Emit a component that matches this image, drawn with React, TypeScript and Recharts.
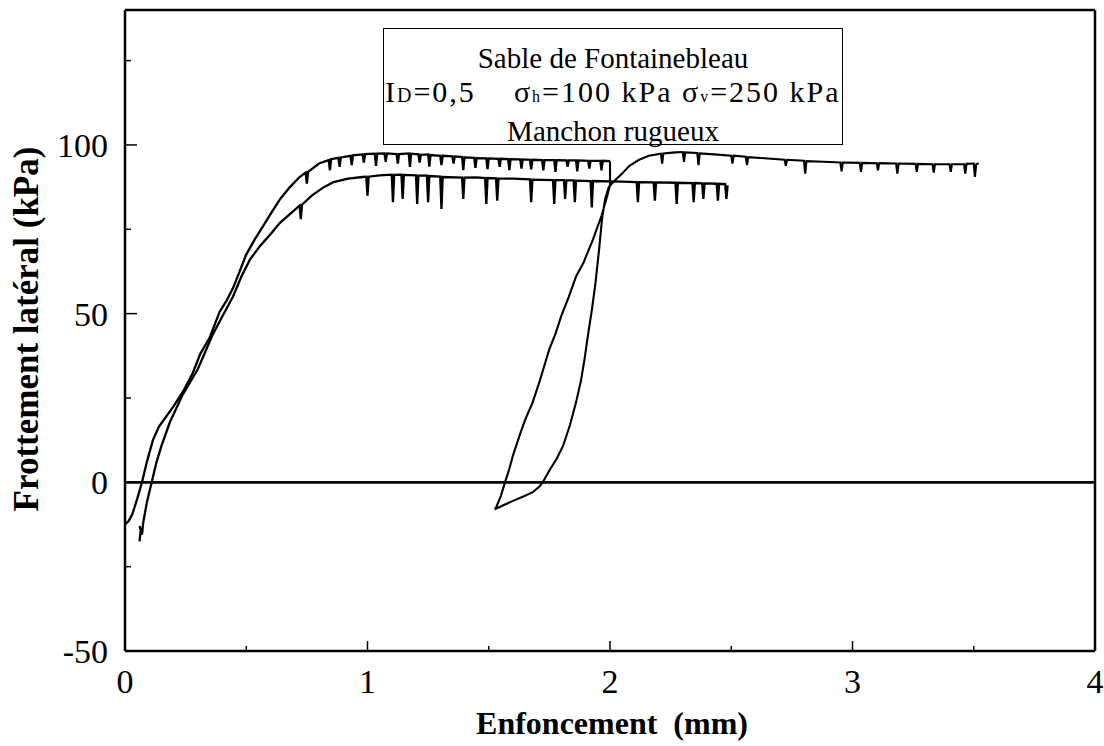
import React from 'react';
import { LineChart, Line, XAxis, YAxis, ReferenceLine } from 'recharts';

// Enfoncement (mm) vs frottement latéral (kPa)
const firstLoading: [number, number][] = [
  [0.0, -12.5], [0.015, -11.5], [0.03, -9.5], [0.05, -5], [0.07, 0], [0.09, 6], [0.115, 12.5],
  [0.14, 16.5], [0.17, 19.5], [0.2, 22.5], [0.24, 27], [0.28, 32.5], [0.31, 38], [0.35, 43],
  [0.39, 50.5], [0.42, 54], [0.445, 57.5], [0.47, 62], [0.5, 67.5], [0.535, 72], [0.57, 76],
  [0.6, 79.5], [0.64, 84], [0.68, 87.5], [0.72, 90.5], [0.745, 91.8], [0.75, 88.5], [0.755, 92],
  [0.8, 94.5], [0.84, 95.5], [0.845, 92.5], [0.85, 95.8], [0.88, 96.2], [0.885, 93.5], [0.89, 96.3],
  [0.93, 96.8], [0.935, 94], [0.94, 96.9], [0.98, 97.2], [0.985, 94.8], [0.99, 97.3], [1.03, 97.4],
  [1.035, 93.8], [1.04, 97.4], [1.07, 97.5], [1.075, 95], [1.08, 97.5], [1.12, 97.3], [1.125, 94.5],
  [1.13, 97.3], [1.17, 97.5], [1.175, 93.5], [1.18, 97.4], [1.21, 97.2], [1.215, 94.8], [1.22, 97.1],
  [1.25, 97.2], [1.255, 93.6], [1.26, 97], [1.3, 96.8], [1.305, 94], [1.31, 96.8], [1.35, 96.6],
  [1.355, 94.5], [1.36, 96.6], [1.39, 96.4], [1.395, 92.5], [1.4, 96.3], [1.44, 96.2], [1.445, 93.2],
  [1.45, 96.1], [1.49, 96], [1.495, 92.8], [1.5, 96], [1.54, 95.9], [1.545, 93.5], [1.55, 95.9],
  [1.58, 95.8], [1.585, 92.5], [1.59, 95.8], [1.63, 95.7], [1.635, 93], [1.64, 95.7], [1.67, 95.6],
  [1.675, 92.8], [1.68, 95.6], [1.72, 95.5], [1.725, 92.5], [1.73, 95.5], [1.77, 95.5], [1.775, 92],
  [1.78, 95.5], [1.82, 95.4], [1.825, 93.5], [1.83, 95.4], [1.86, 95.4], [1.865, 92.2], [1.87, 95.4],
  [1.91, 95.3], [1.915, 93], [1.92, 95.3], [1.96, 95.3], [1.965, 92.5], [1.97, 95.3], [2.0, 95.2],
];

const unloadReload: [number, number][] = [
  [2.0, 95.2], [2.0, 88], [1.985, 84], [1.965, 79], [1.93, 72], [1.89, 65], [1.86, 61], [1.83, 55],
  [1.8, 49.5], [1.775, 44], [1.75, 39.5], [1.71, 30], [1.68, 23.5], [1.65, 18.5], [1.63, 14.5],
  [1.6, 8], [1.585, 4], [1.567, 0], [1.55, -4], [1.53, -7.5], [1.525, -8], [1.56, -6.8], [1.6, -5.5],
  [1.64, -4.3], [1.68, -3], [1.71, -1.2], [1.725, 0.3], [1.75, 3.5], [1.78, 7], [1.806, 10.7],
  [1.835, 17], [1.86, 23.7], [1.88, 30], [1.895, 36.5], [1.91, 44], [1.925, 51], [1.94, 59],
  [1.955, 69], [1.967, 78], [1.98, 84], [1.995, 87.5], [2.02, 89.5], [2.05, 91.5], [2.08, 93.8],
  [2.12, 95.6], [2.16, 96.8], [2.21, 97.4], [2.215, 94.5], [2.22, 97.5], [2.27, 97.8], [2.3, 97.9],
  [2.305, 95], [2.31, 97.8], [2.36, 97.6], [2.365, 94], [2.37, 97.5], [2.43, 97.2], [2.5, 96.8],
  [2.505, 94.5], [2.51, 96.8], [2.56, 96.5], [2.565, 94], [2.57, 96.4], [2.65, 96], [2.72, 95.6],
  [2.725, 93.8], [2.73, 95.6], [2.8, 95.3], [2.805, 91.5], [2.81, 95.2], [2.88, 95], [2.95, 94.8],
  [2.955, 92.2], [2.96, 94.8], [3.03, 94.7], [3.035, 92], [3.04, 94.7], [3.1, 94.6], [3.105, 92.5],
  [3.11, 94.6], [3.18, 94.5], [3.185, 91.5], [3.19, 94.5], [3.26, 94.4], [3.265, 92], [3.27, 94.4],
  [3.33, 94.3], [3.335, 91.8], [3.34, 94.3], [3.4, 94.3], [3.405, 92], [3.41, 94.3], [3.46, 94.3],
  [3.465, 91.5], [3.47, 94.4], [3.5, 94.5], [3.505, 90.5], [3.51, 94.2], [3.52, 94.6],
];

const secondTest: [number, number][] = [
  [0.06, -17.5], [0.065, -14], [0.06, -13], [0.07, -15.5], [0.075, -12], [0.09, -6], [0.11, 0],
  [0.13, 6], [0.15, 10.7], [0.185, 17.8], [0.235, 25.6], [0.3, 33.5], [0.36, 43.5], [0.4, 49],
  [0.445, 55], [0.48, 61], [0.515, 66], [0.556, 70], [0.6, 73.5], [0.64, 77], [0.68, 79.5],
  [0.72, 82], [0.725, 78], [0.73, 82.3], [0.77, 85], [0.82, 87.5], [0.86, 89], [0.92, 90],
  [0.98, 90.5], [0.995, 90.6], [1.0, 85], [1.005, 90.6], [1.05, 91], [1.1, 91.2], [1.105, 83],
  [1.11, 91.1], [1.14, 91.2], [1.145, 84], [1.15, 91.1], [1.2, 91], [1.205, 82.5], [1.21, 90.9],
  [1.245, 90.9], [1.25, 83], [1.255, 90.8], [1.3, 90.6], [1.305, 81], [1.31, 90.5], [1.39, 90.3],
  [1.395, 84], [1.4, 90.3], [1.45, 90.4], [1.485, 90.2], [1.49, 82.5], [1.495, 90.2], [1.53, 90.1],
  [1.535, 83.5], [1.54, 90], [1.6, 90], [1.67, 89.8], [1.675, 83], [1.68, 89.7], [1.765, 89.6],
  [1.77, 82.5], [1.775, 89.6], [1.81, 89.6], [1.815, 84], [1.82, 89.5], [1.85, 89.5], [1.855, 83],
  [1.86, 89.4], [1.92, 89.3], [1.925, 81.5], [1.93, 89.3], [2.0, 89.2], [2.05, 89.1], [2.11, 89],
  [2.115, 83], [2.12, 89], [2.18, 88.9], [2.185, 83.5], [2.19, 88.9], [2.27, 88.8], [2.275, 82.5],
  [2.28, 88.8], [2.34, 88.7], [2.345, 83], [2.35, 88.7], [2.38, 88.6], [2.385, 84], [2.39, 88.6],
  [2.44, 88.5], [2.445, 83.5], [2.45, 88.5], [2.475, 88.4], [2.48, 84], [2.485, 88],
];

const xTicks = [0, 0.5, 1, 1.5, 2, 2.5, 3, 3.5, 4];
const xLabels = [0, 1, 2, 3, 4];
const yTicks = [-50, -25, 0, 25, 50, 75, 100, 125];
const yLabels = [-50, 0, 50, 100];

const toPoints = (arr: [number, number][]) => arr.map(([x, y]) => ({ x, y }));

const FONT = "'Liberation Serif', Tinos, serif";
const X_MARGIN = 12;
const Y_MARGIN = 17;

const XTick = (props: any) => {
  const { x, y, payload } = props;
  const axisY = y - X_MARGIN;
  const major = xLabels.includes(payload.value);
  return (
    <g>
      <line x1={x} x2={x} y1={axisY} y2={axisY - (major ? 10 : 5)} stroke="#000" strokeWidth={1.5} />
      {major && (
        <text x={x} y={axisY + 42} textAnchor="middle" fontSize={34} fill="#000" style={{ fontFamily: FONT }}>
          {payload.value}
        </text>
      )}
    </g>
  );
};

const YTick = (props: any) => {
  const { x, y, payload } = props;
  const axisX = x + Y_MARGIN;
  const major = yLabels.includes(payload.value);
  return (
    <g>
      <line x1={axisX} x2={axisX + (major ? 12 : 6)} y1={y} y2={y} stroke="#000" strokeWidth={1.5} />
      {major && (
        <text x={x} y={y} dy="0.35em" textAnchor="end" fontSize={34} fill="#000" style={{ fontFamily: FONT }}>
          {payload.value}
        </text>
      )}
    </g>
  );
};

export default function App() {
  return (
    <div style={{ position: 'absolute', left: 0, top: 0, width: 1104, height: 746, background: '#fff', fontFamily: FONT }}>
      <LineChart width={1104} height={746} margin={{ top: 10, right: 9, bottom: 65, left: 65 }}>
        <XAxis
          dataKey="x"
          type="number"
          domain={[0, 4]}
          ticks={xTicks}
          interval={0}
          tickSize={0}
          tickMargin={X_MARGIN}
          tickLine={false}
          axisLine={{ stroke: '#000', strokeWidth: 2.5 }}
          tick={<XTick />}
          height={30}
          allowDataOverflow
        />
        <YAxis
          type="number"
          domain={[-50, 140]}
          ticks={yTicks}
          interval={0}
          tickSize={0}
          tickMargin={Y_MARGIN}
          tickLine={false}
          axisLine={{ stroke: '#000', strokeWidth: 2.5 }}
          tick={<YTick />}
          width={60}
          allowDataOverflow
        />
        <ReferenceLine y={140} stroke="#000" strokeWidth={2.5} />
        <ReferenceLine x={4} stroke="#000" strokeWidth={2.5} />
        <ReferenceLine y={0} stroke="#000" strokeWidth={2.8} />
        <Line data={toPoints(firstLoading)} dataKey="y" type="linear" dot={false} stroke="#000" strokeWidth={2.3} isAnimationActive={false} />
        <Line data={toPoints(unloadReload)} dataKey="y" type="linear" dot={false} stroke="#000" strokeWidth={2.1} isAnimationActive={false} />
        <Line data={toPoints(secondTest)} dataKey="y" type="linear" dot={false} stroke="#000" strokeWidth={2.3} isAnimationActive={false} />
      </LineChart>

      <div
        style={{
          position: 'absolute', left: 383, top: 28, width: 460, height: 117, boxSizing: 'border-box',
          border: '1.5px solid #000', background: '#fff', fontSize: 29, lineHeight: '34px', color: '#000',
          paddingTop: 12,
        }}
      >
        <div style={{ textAlign: 'center' }}>Sable de Fontainebleau</div>
        <div style={{ paddingLeft: 1, whiteSpace: 'pre', fontSize: 30, letterSpacing: 2 }}>
          I<span style={{ fontSize: 20 }}>D</span>=0,5{'    '}σ<span style={{ fontSize: 16 }}>h</span>=100 kPa σ
          <span style={{ fontSize: 16 }}>v</span>=250 kPa
        </div>
        <div style={{ textAlign: 'center' }}>Manchon rugueux</div>
      </div>

      <div
        style={{
          position: 'absolute', left: 27, top: 329, transform: 'translate(-50%, -50%) rotate(-90deg)',
          whiteSpace: 'nowrap', fontSize: 35, fontWeight: 'bold', color: '#000',
        }}
      >
        Frottement latéral (kPa)
      </div>
      <div
        style={{
          position: 'absolute', left: 612, top: 704, transform: 'translateX(-50%)',
          whiteSpace: 'pre', fontSize: 32, fontWeight: 'bold', color: '#000', lineHeight: '38px',
        }}
      >
        Enfoncement  (mm)
      </div>
    </div>
  );
}
